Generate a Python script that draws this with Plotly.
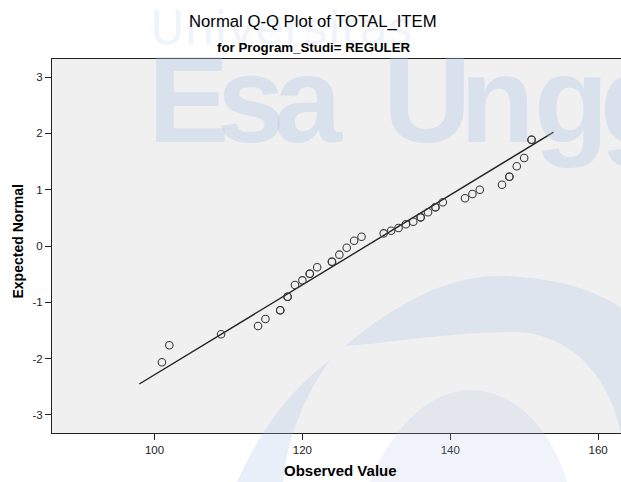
import plotly.graph_objects as go

# ---- data ----
observed = [101, 102, 109, 114, 115, 117, 117, 118, 118, 119, 120, 121, 121, 122,
            124, 124, 125, 126, 127, 128, 131, 132, 133, 134, 135, 136, 136, 137,
            138, 138, 139, 142, 143, 144, 147, 148, 148, 149, 150, 151, 151]
expected = [-2.065, -1.763, -1.568, -1.420, -1.296, -1.141, -1.141, -0.900, -0.900,
            -0.692, -0.610, -0.492, -0.492, -0.378, -0.279, -0.279, -0.154, -0.030,
            0.094, 0.165, 0.225, 0.272, 0.320, 0.385, 0.431, 0.509, 0.509, 0.598,
            0.687, 0.687, 0.776, 0.847, 0.923, 0.999, 1.088, 1.230, 1.230, 1.415,
            1.562, 1.887, 1.887]
line_x = [97.94, 153.97]
line_y = [-2.45, 2.02]
x_ticks = [100, 120, 140, 160]
x_tick_text = ["100", "120", "140", "160"]
y_ticks = [-3, -2, -1, 0, 1, 2, 3]
y_tick_text = ["-3", "-2", "-1", "0", "1", "2", "3"]

W, H = 621, 482
L, R, T, B = 52, 0, 59, 49
PW, PH = W - L - R, H - T - B


def xp(px):
    return (px - L) / PW


def yp(py):
    return (H - B - py) / PH


FONT = "Liberation Sans, Arial, sans-serif"

fig = go.Figure()
fig.add_trace(go.Scatter(x=line_x, y=line_y, mode="lines",
                         line=dict(color="#222222", width=1.4),
                         hoverinfo="skip", showlegend=False))
fig.add_trace(go.Scatter(x=observed, y=expected, mode="markers",
                         marker=dict(symbol="circle-open", size=7.5,
                                     color="#3a3a3a", line=dict(width=1.1, color="#3a3a3a")),
                         showlegend=False))


# ---- watermark swooshes (pixel coords converted to paper) ----
def path(points_cmds):
    out = []
    for cmd, pts in points_cmds:
        s = cmd
        if pts:
            s += " " + " ".join(f"{xp(a):.4f},{yp(b):.4f}" for a, b in pts)
        out.append(s)
    return " ".join(out)


wm_fill = "rgba(170,195,230,0.26)"
shapes = []
shapes.append(dict(type="path", xref="paper", yref="paper", layer="above",
                   line=dict(width=0), fillcolor=wm_fill,
                   path=path([("M", [(345, 346)]),
                              ("C", [(400, 300), (450, 276), (500, 276)]),
                              ("C", [(560, 277), (610, 292), (650, 330)]),
                              ("L", [(650, 440)]),
                              ("L", [(622, 440)]),
                              ("C", [(615, 390), (580, 335), (517, 332)]),
                              ("C", [(450, 332), (390, 343), (345, 346)]),
                              ("Z", [])])))
shapes.append(dict(type="path", xref="paper", yref="paper", layer="above",
                   line=dict(width=0), fillcolor=wm_fill,
                   path=path([("M", [(237, 482)]),
                              ("C", [(260, 430), (290, 390), (330, 360)]),
                              ("C", [(305, 395), (288, 435), (283, 482)]),
                              ("Z", [])])))
shapes.append(dict(type="path", xref="paper", yref="paper", layer="above",
                   line=dict(width=0), fillcolor="rgba(170,195,230,0.18)",
                   path=path([("M", [(370, 482)]),
                              ("C", [(395, 420), (435, 390), (470, 390)]),
                              ("C", [(515, 390), (552, 430), (567, 482)]),
                              ("Z", [])])))

wm_text = "rgba(170,195,230,0.33)"
annotations = [
    dict(text="Universitas", x=xp(148), y=yp(28), xref="paper", yref="paper",
         xanchor="left", yanchor="middle", showarrow=False,
         font=dict(family="DejaVu Sans, sans-serif", size=47, color="rgba(170,195,230,0.2)")),
]
# big watermark letters, each placed where it sits in the reference
for ch, left in [("E", 146), ("s", 215), ("a", 272), ("U", 381), ("n", 458), ("g", 532), ("g", 598)]:
    annotations.append(dict(text=f"<b>{ch}</b>", x=xp(left), y=yp(100), xref="paper", yref="paper",
                            xanchor="left", yanchor="middle", showarrow=False,
                            font=dict(family=FONT, size=122, color=wm_text)))

annotations += [
    dict(text="Normal Q-Q Plot of TOTAL_ITEM", x=xp(313), y=yp(21), xref="paper", yref="paper",
         xanchor="center", yanchor="middle", showarrow=False,
         font=dict(family=FONT, size=16.7, color="#000000")),
    dict(text="<b>for Program_Studi= REGULER</b>", x=xp(313.5), y=yp(47.5), xref="paper",
         yref="paper", xanchor="center", yanchor="middle", showarrow=False,
         font=dict(family=FONT, size=13.3, color="#000000")),
    dict(text="<b>Observed Value</b>", x=xp(340), y=yp(470), xref="paper", yref="paper",
         xanchor="center", yanchor="middle", showarrow=False,
         font=dict(family=FONT, size=15, color="#000000")),
    dict(text="<b>Expected Normal</b>", x=xp(17.5), y=yp(242), xref="paper", yref="paper",
         xanchor="center", yanchor="middle", showarrow=False, textangle=-90,
         font=dict(family=FONT, size=14, color="#000000")),
]

fig.update_layout(
    width=W, height=H,
    margin=dict(l=L, r=R, t=T, b=B, pad=0),
    paper_bgcolor="#ffffff", plot_bgcolor="#f0f0f0",
    shapes=shapes, annotations=annotations,
    showlegend=False, hovermode=False,
)
fig.update_xaxes(range=[86.13, 163.1], tickvals=x_ticks, ticktext=x_tick_text,
                 ticks="outside", ticklen=6,
                 tickcolor="#222222", showline=True, linecolor="#222222", linewidth=1,
                 mirror=True, showgrid=False, zeroline=False,
                 tickfont=dict(family=FONT, size=11.5, color="#222222"))
fig.update_yaxes(range=[-3.32, 3.32], tickvals=y_ticks, ticktext=y_tick_text,
                 ticks="outside", ticklen=6,
                 tickcolor="#222222", showline=True, linecolor="#222222", linewidth=1,
                 showgrid=False, zeroline=False,
                 tickfont=dict(family=FONT, size=11.5, color="#222222"))

fig.write_html("out.html", config={"displayModeBar": False},
               post_script="document.body.style.margin='0';document.body.style.overflow='hidden';")
